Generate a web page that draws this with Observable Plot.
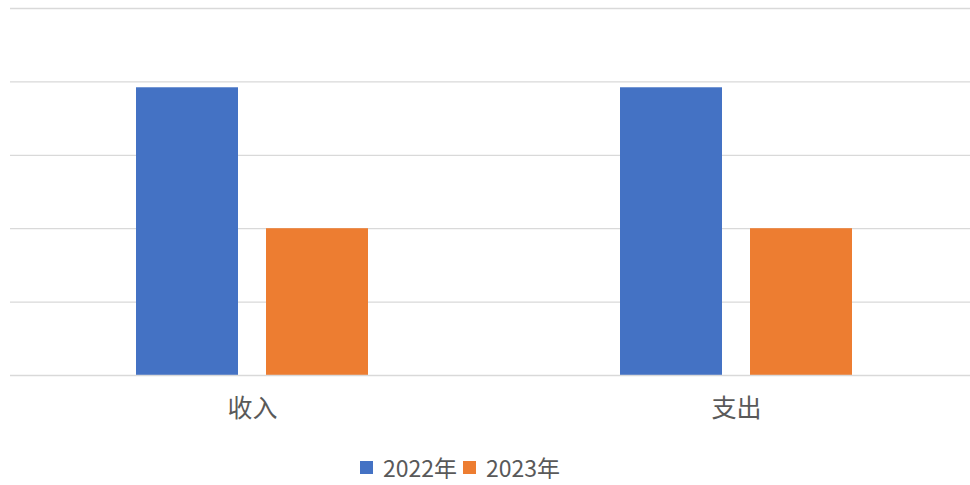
<!DOCTYPE html>
<html><head><meta charset="utf-8">
<script src="https://cdn.jsdelivr.net/npm/d3@7"></script>
<script src="https://cdn.jsdelivr.net/npm/@observablehq/plot@0.6"></script>
<style>
body{margin:0;background:#fff;font-family:"Noto Sans CJK SC",sans-serif;overflow:hidden;}
#legend{display:flex;align-items:center;height:24px;margin-top:10px;padding-left:360px;font-size:23px;color:#595959;}
.item{display:flex;align-items:center;margin-right:6px}
.sw{width:13px;height:13px;margin-right:10px}
</style></head><body><div id="chart"></div><div id="legend"></div>
<script>
const categories = ["收入", "支出"];
const years = ["2022年", "2023年"];
const values2022 = [3.92, 3.92];
const values2023 = [2, 2];
const colors = ["#4472C4", "#ED7D31"];
const gridTicks = [0, 1, 2, 3, 4, 5];

const data = [];
categories.forEach((c, i) => {
  data.push({category: c, year: years[0], value: values2022[i]});
  data.push({category: c, year: years[1], value: values2023[i]});
});

const plot = Plot.plot({
  width: 970, height: 445, marginTop: 8, marginBottom: 70, marginLeft: 10, marginRight: 0,
  style: {fontFamily: '"Noto Sans CJK SC", sans-serif', fontSize: "25px", color: "#595959", background: "#fff", overflow: "hidden"},
  fx: {domain: categories, range: [9.5, 977.5], paddingInner: 0, paddingOuter: 0, label: null},
  x: {domain: years, paddingInner: 0.2146, paddingOuter: 0.962, axis: null},
  y: {domain: [0, 5], axis: null},
  color: {domain: years, range: colors},
  marks: [
    Plot.ruleY(gridTicks.slice(1), {stroke: "#d9d9d9", strokeWidth: 1.3}),
    Plot.barY(data, {fx: "category", x: "year", y: "value", fill: "year"}),
    Plot.ruleY([0], {stroke: "#d9d9d9", strokeWidth: 1.3}),
    Plot.axisFx({anchor: "bottom", tickSize: 0, tickPadding: 24, fontSize: 25, label: null})
  ]
});
document.getElementById("chart").appendChild(plot);

const legend = document.getElementById("legend");
years.forEach((y, i) => {
  const item = document.createElement("div");
  item.className = "item";
  const sw = document.createElement("span");
  sw.className = "sw";
  sw.style.background = colors[i];
  const t = document.createElement("span");
  t.textContent = y;
  item.appendChild(sw);
  item.appendChild(t);
  legend.appendChild(item);
});
</script></body></html>
